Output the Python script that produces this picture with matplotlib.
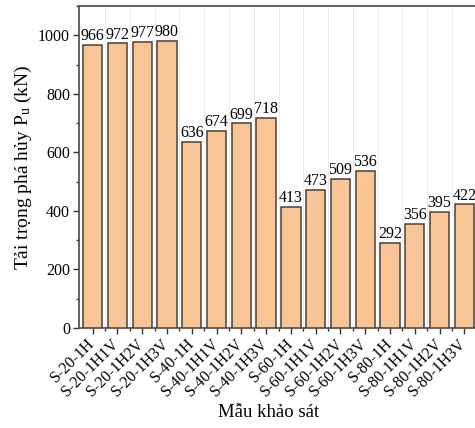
import numpy as np
import matplotlib.pyplot as plt
from matplotlib.ticker import MultipleLocator

plt.rcParams["font.family"] = ["Liberation Serif", "DejaVu Serif"]
plt.rcParams["mathtext.default"] = "regular"

# Ultimate load of each specimen
samples = [
    "S-20-1H", "S-20-1H1V", "S-20-1H2V", "S-20-1H3V",
    "S-40-1H", "S-40-1H1V", "S-40-1H2V", "S-40-1H3V",
    "S-60-1H", "S-60-1H1V", "S-60-1H2V", "S-60-1H3V",
    "S-80-1H", "S-80-1H1V", "S-80-1H2V", "S-80-1H3V",
]
pu = [966, 972, 977, 980, 636, 674, 699, 718,
      413, 473, 509, 536, 292, 356, 395, 422]

x = np.arange(len(samples))

fig = plt.figure(figsize=(4.75, 4.28), dpi=100)
ax = fig.add_axes([79 / 475, 1 - 328 / 428, 399 / 475, 322 / 428])

ax.bar(x, pu, width=0.78, color="#F9C597", edgecolor="#4a4036",
       linewidth=1.1, zorder=3)

for xi, v in zip(x, pu):
    ax.text(xi, v + 3, f"{v}", ha="center", va="bottom", fontsize=11.5, zorder=4)

ax.set_xlim(-0.55, 15.55)
ax.set_ylim(0, 1100)

ax.yaxis.set_major_locator(MultipleLocator(200))
ax.yaxis.set_minor_locator(MultipleLocator(100))
ax.set_xticks(x)
ax.set_xticks(x[:-1] + 0.5, minor=True)
ax.set_xticklabels(samples, rotation=45, ha="right", va="center",
                   rotation_mode="anchor", fontsize=11.5)

# faint vertical grid between bars
for b in x[:-1] + 0.5:
    ax.axvline(b, color="#ececec", linewidth=0.7, zorder=0)

ax.tick_params(axis="both", which="major", direction="out", length=4.5,
               width=1, color="#333333", labelsize=11.5)
ax.tick_params(axis="x", which="major", labelsize=11.5, pad=5)
ax.tick_params(axis="both", which="minor", direction="out", length=2.5,
               width=1, color="#333333")
ax.tick_params(axis="y", pad=2)

for side in ["left", "top", "bottom"]:
    ax.spines[side].set_color("#555555")
    ax.spines[side].set_linewidth(1.3)
ax.spines["right"].set_visible(False)

ax.set_ylabel("Tải trọng phá hủy P$_u$ (kN)", fontsize=14)
ax.yaxis.set_label_coords(-0.112, 0.5)
ax.set_xlabel("Mẫu khảo sát", fontsize=13.5)
ax.xaxis.set_label_coords(0.475, -0.237)

fig.savefig("out.png", dpi=100)
plt.close(fig)
